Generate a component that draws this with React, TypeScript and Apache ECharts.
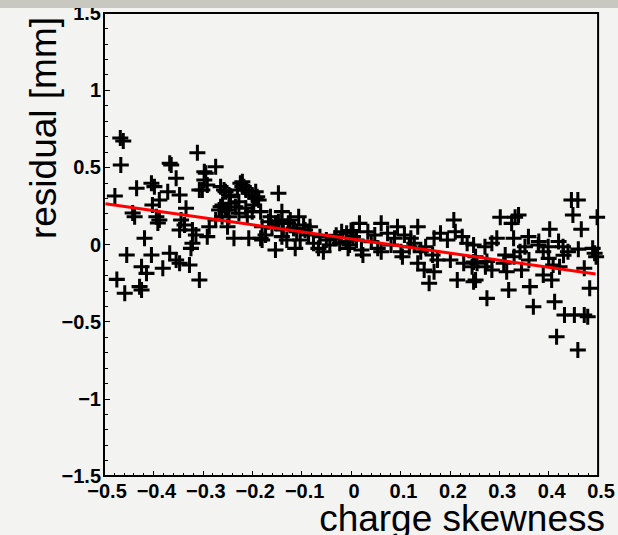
import React, { useEffect, useRef } from "react";
import * as echarts from "echarts";

// scatter points (charge skewness, residual [mm])
const pointX = [
  -0.467, -0.461, -0.466, -0.478, -0.434, -0.404, -0.398, -0.367, -0.364, -0.354,
  -0.311, -0.274, -0.294, -0.297, -0.307, -0.347, -0.371, -0.388, -0.442, -0.438,
  -0.402, -0.394, -0.388, -0.391, -0.334, -0.344, -0.337, -0.347, -0.321, -0.314,
  -0.287, -0.291, -0.267, -0.261, -0.264, -0.418, -0.454, -0.404, -0.367, -0.354,
  -0.347, -0.321, -0.324, -0.327, -0.424, -0.414, -0.381, -0.474, -0.458, -0.428,
  -0.424, -0.307,
  -0.297, -0.291, -0.301, -0.264, -0.254, -0.247, -0.224, -0.220, -0.213, -0.207,
  -0.200, -0.193, -0.187, -0.147, -0.260, -0.254, -0.247, -0.274, -0.234, -0.227,
  -0.213, -0.200, -0.237, -0.207, -0.183, -0.180, -0.167, -0.153, -0.140, -0.127,
  -0.116, -0.153,
  -0.257, -0.244, -0.230, -0.220, -0.217, -0.193, -0.190, -0.244, -0.227, -0.197,
  -0.183, -0.210, -0.250, -0.250, -0.140, -0.163, -0.123, -0.106, -0.096, -0.083,
  -0.173, -0.180, -0.140, -0.130, -0.113, -0.103, -0.086, -0.076, -0.066, -0.056,
  -0.043, -0.033, -0.019, -0.006, -0.009, 0.004, -0.063, -0.050, -0.160, -0.147,
  -0.137, -0.116, -0.110, -0.093, -0.023, -0.030, -0.010, 0.000,
  0.017, 0.061, 0.094, 0.135, 0.004, 0.034, 0.048, 0.074, 0.108, 0.121,
  -0.003, 0.021, 0.024, 0.054, 0.061, 0.081, 0.101, 0.104, 0.118, 0.011,
  0.041, 0.088, 0.128, 0.141, 0.135, 0.148, 0.158, 0.168, 0.175, 0.165,
  0.151, 0.168, 0.181, 0.195, 0.208, 0.211, 0.225, 0.235, 0.201, 0.215,
  0.228, 0.248, 0.245, 0.252,
  0.446, 0.459, 0.449, 0.498, 0.466, 0.302, 0.332, 0.339, 0.325, 0.402,
  0.295, 0.285, 0.329, 0.359, 0.352, 0.342, 0.379, 0.389, 0.399, 0.429,
  0.439, 0.271, 0.248, 0.489, 0.493, 0.496, 0.312, 0.309, 0.255, 0.272,
  0.285, 0.315, 0.345, 0.409, 0.422, 0.472, 0.389, 0.406, 0.252, 0.483,
  0.275, 0.319, 0.362, 0.369, 0.412, 0.432, 0.452, 0.472, 0.479, 0.416,
  0.459, 0.360, 0.400, 0.430, 0.460, 0.330, 0.380, 0.420, 0.248, 0.275,
];
const pointY = [
  0.690, 0.670, 0.515, 0.314, 0.364, 0.397, 0.375, 0.526, 0.515, 0.429,
  0.595, 0.504, 0.461, 0.418, 0.353, 0.321, 0.342, 0.288, 0.204, 0.180,
  0.256, 0.180, 0.159, 0.139, 0.235, 0.159, 0.126, 0.094, 0.094, 0.062,
  0.115, 0.051, 0.224, 0.180, 0.245, 0.040, -0.068, -0.068, -0.057, -0.100,
  -0.122, 0.008, -0.025, -0.133, -0.144, -0.187, -0.154, -0.226, -0.316, -0.273,
  -0.295, -0.230,
  0.472, 0.386, 0.353, 0.375, 0.342, 0.321, 0.397, 0.375, 0.353, 0.342,
  0.321, 0.299, 0.288, 0.332, 0.256, 0.224, 0.180, 0.159, 0.245, 0.202,
  0.235, 0.213, 0.040, 0.040, 0.040, 0.115, 0.148, 0.137, 0.159, 0.137,
  0.105, -0.036,
  0.353, 0.310, 0.353, 0.407, 0.375, 0.342, 0.310, 0.267, 0.277, 0.256,
  0.213, 0.180, 0.115, 0.224, 0.213, 0.180, 0.159, 0.180, 0.126, 0.115,
  0.062, 0.029, 0.051, 0.029, -0.025, 0.029, 0.062, 0.008, -0.025, -0.047,
  -0.003, 0.040, 0.083, -0.025, 0.073, 0.051, 0.051, 0.029, 0.115, 0.148,
  0.094, 0.105, 0.083, 0.094, 0.008, 0.060, 0.020, 0.090,
  0.137, 0.137, 0.115, 0.115, 0.083, 0.083, 0.062, 0.073, 0.062, 0.040,
  -0.003, -0.036, -0.068, -0.025, -0.047, -0.003, -0.047, -0.079, -0.014, 0.029,
  0.018, 0.040, 0.008, -0.047, -0.122, -0.165, -0.251, -0.176, -0.100, -0.068,
  -0.014, 0.040, 0.073, 0.029, 0.159, 0.083, 0.051, 0.008, -0.100, -0.230,
  -0.122, -0.241, -0.144, -0.079,
  0.288, 0.288, 0.191, 0.176, 0.099, 0.176, 0.176, 0.191, 0.137, 0.099,
  0.040, 0.008, 0.040, 0.051, -0.014, -0.047, -0.003, -0.047, -0.014, -0.014,
  -0.047, -0.014, -0.003, -0.025, -0.057, -0.079, -0.068, -0.122, -0.122, -0.144,
  -0.165, -0.176, -0.165, -0.133, -0.144, -0.154, -0.198, -0.230, -0.230, -0.284,
  -0.349, -0.295, -0.273, -0.403, -0.371, -0.457, -0.457, -0.457, -0.468, -0.598,
  -0.684, -0.100, -0.090, -0.070, -0.030, -0.080, 0.020, 0.020, -0.113, -0.110,
];

// linear fit line end points
const fitX = [-0.497, 0.495];
const fitY = [0.264, -0.191];

const xTitle = "charge skewness";
const yTitle = "residual [mm]";

const fmt = (v: number) => {
  const r = Math.round(v * 10) / 10;
  if (r === 0) return "0";
  return r < 0 ? "\u2212" + String(Math.abs(r)) : String(r);
};

const FONT = "'Liberation Sans', Arial, Helvetica, sans-serif";

export default function App() {
  const ref = useRef<HTMLDivElement>(null);
  useEffect(() => {
    if (!ref.current) return;
    const chart = echarts.init(ref.current, undefined, { renderer: "svg" });
    const points = pointX.map((x, i) => [x, pointY[i]]);
    const fit = fitX.map((x, i) => [x, fitY[i]]);
    chart.setOption({
      animation: false,
      backgroundColor: "#f3f3f1",
      grid: {
        left: 104,
        right: 16,
        top: 13,
        bottom: 59,
        show: true,
        borderColor: "#000",
        borderWidth: 2,
        backgroundColor: "transparent",
      },
      xAxis: {
        type: "value",
        min: -0.5,
        max: 0.5,
        interval: 0.1,
        axisLine: { show: true, onZero: false, lineStyle: { color: "#000", width: 2 } },
        axisTick: { show: true, inside: true, length: 5, lineStyle: { color: "#000", width: 1 } },
        minorTick: { show: true, splitNumber: 5, length: 3, lineStyle: { color: "#000", width: 1 } },
        splitLine: { show: false },
        axisLabel: {
          formatter: fmt,
          color: "#000",
          fontWeight: "bold",
          fontSize: 20,
          fontFamily: FONT,
          margin: 5,
          lineHeight: 20,
          padding: [0, 0, 0, 6],
          showMinLabel: true,
          showMaxLabel: true,
        },
      },
      yAxis: {
        type: "value",
        min: -1.5,
        max: 1.5,
        interval: 0.5,
        axisLine: { show: true, onZero: false, lineStyle: { color: "#000", width: 2 } },
        axisTick: { show: true, inside: true, length: 6, lineStyle: { color: "#000", width: 1 } },
        minorTick: { show: true, splitNumber: 5, length: 4, lineStyle: { color: "#000", width: 1 } },
        splitLine: { show: false },
        axisLabel: {
          formatter: fmt,
          color: "#000",
          fontWeight: "bold",
          fontSize: 20,
          fontFamily: FONT,
          margin: 3,
          showMinLabel: true,
          showMaxLabel: true,
        },
      },
      series: [
        {
          type: "scatter",
          data: points,
          clip: false,
          symbol: "path://M-0.19,-1H0.19V-0.19H1V0.19H0.19V1H-0.19V0.19H-1V-0.19H-0.19Z",
          symbolSize: 16,
          itemStyle: { color: "#000", opacity: 1 },
          z: 2,
        },
        {
          type: "line",
          data: fit,
          showSymbol: false,
          symbol: "none",
          lineStyle: { color: "#ff0000", width: 3, opacity: 1 },
          z: 3,
        },
      ],
      graphic: [
        {
          type: "rect",
          shape: { x: 0, y: 0, width: 618, height: 8 },
          style: { fill: "#c8c8c0" },
          z: 100,
        },
        {
          type: "text",
          x: 605,
          y: 535,
          style: {
            text: xTitle,
            fill: "#000",
            font: "37px " + FONT,
            lineHeight: 33,
            align: "right",
            verticalAlign: "bottom",
          },
        },
        {
          type: "text",
          x: 62,
          y: 17,
          rotation: Math.PI / 2,
          style: {
            text: yTitle,
            fill: "#000",
            font: "37px " + FONT,
            align: "right",
            verticalAlign: "bottom",
          },
        },
      ],
    });
    return () => chart.dispose();
  }, []);
  return (
    <div
      ref={ref}
      style={{ position: "fixed", left: 0, top: 0, width: 618, height: 535 }}
    />
  );
}
